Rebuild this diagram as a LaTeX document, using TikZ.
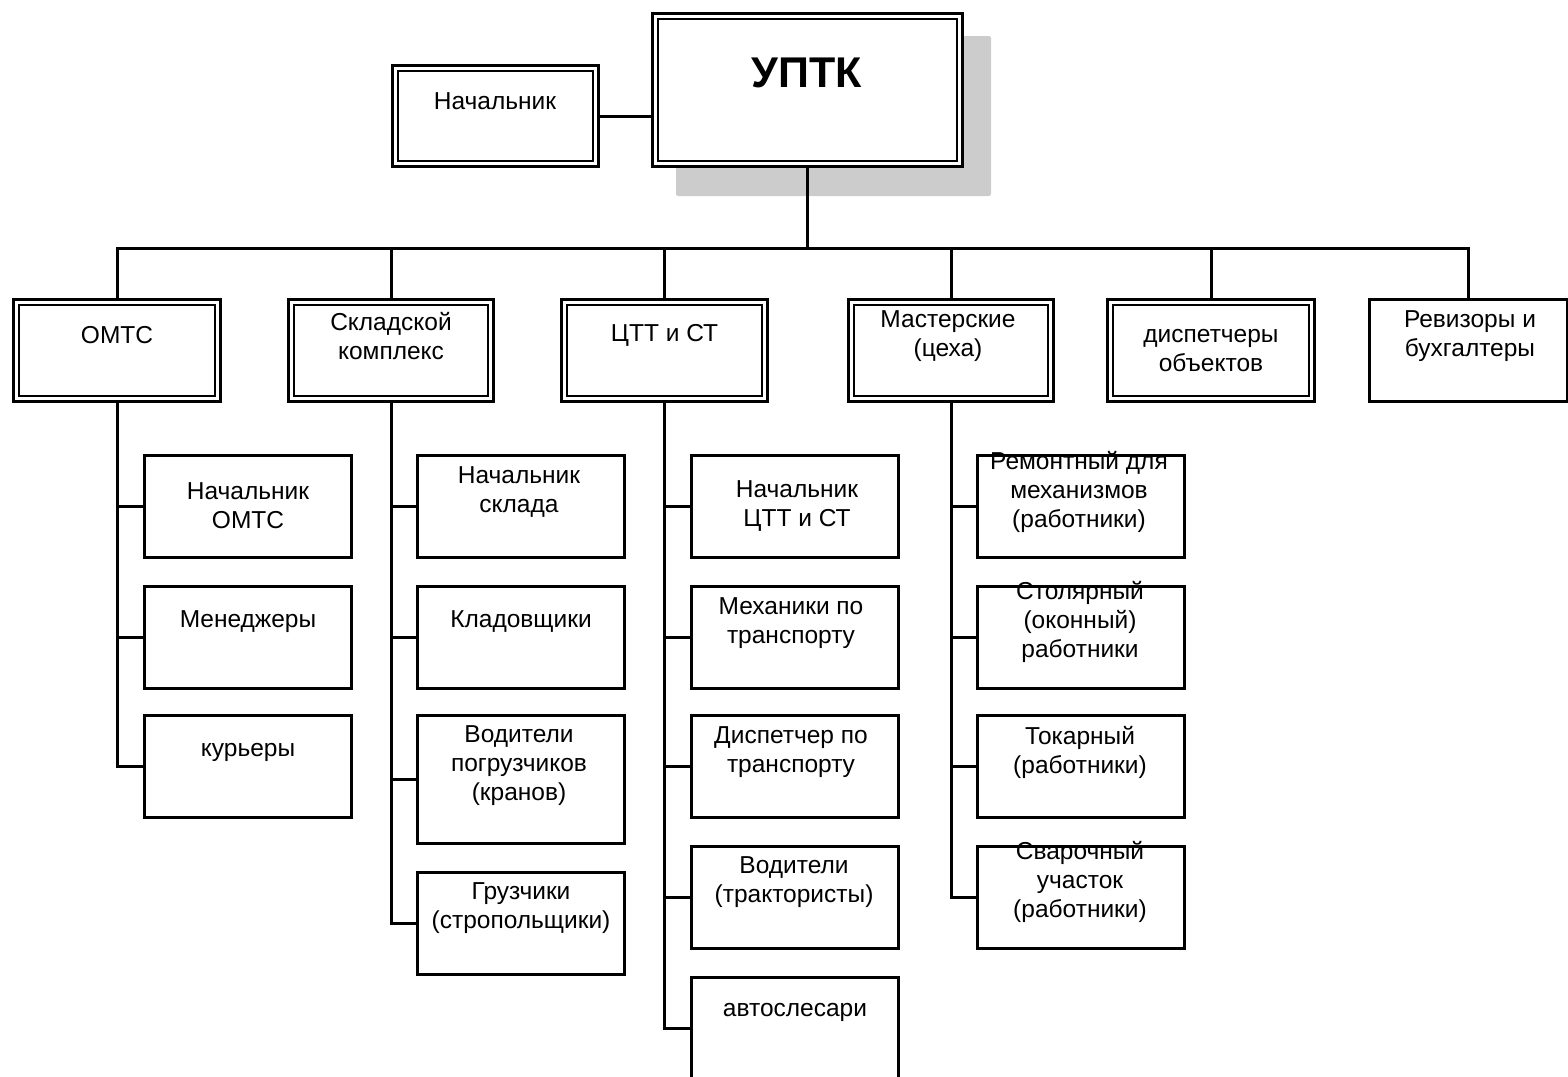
\documentclass[tikz,border=0pt]{standalone}
\usepackage{fontspec}
\setmainfont{Liberation Sans}
\begin{document}
\begin{tikzpicture}[x=1pt,y=-1pt,
  dbox/.style={draw, line width=3.4pt, rectangle, inner sep=0pt, fill=white,
    path picture={\draw[line width=1.8pt] ([shift={(5.4pt,5.4pt)}]path picture bounding box.south west) rectangle ([shift={(-5.4pt,-5.4pt)}]path picture bounding box.north east);}},
  sbox/.style={draw, line width=3pt, rectangle, inner sep=0pt, fill=white},
  cbox/.style={sbox, minimum width=207pt, minimum height=102pt},
  dept/.style={dbox, minimum width=206.5pt, minimum height=101.5pt},
  txt/.style={font=\fontsize{24.5}{29}\selectfont, align=center, inner sep=0pt},
  conn/.style={line width=3pt}]
\useasboundingbox (0,0) rectangle (1568,1076);
% shadow
\fill[black!20, rounded corners=2pt] (676,36) rectangle (991,196);
% top
\node[dbox, minimum width=309.5pt, minimum height=152.5pt] (uptk) at (807.5,90) {};
\node[txt, font=\fontsize{43}{46}\selectfont\bfseries] (tuptk) at (807,73) {УПТК};
\node[dbox, minimum width=205.5pt, minimum height=100.5pt] (nach) at (495.5,116) {};
\node[txt] (tnach) at (495,101) {Начальник};
\draw[conn] (nach.east) -- (nach.east -| uptk.west);
\coordinate (bus) at (807.5,248);
\draw[conn] (uptk.south) -- (bus);
% departments
\node[dept] (d1) at (117,350.5) {};
\node[dept, minimum width=204.5pt] (d2) at (391,350.5) {};
\node[dept] (d3) at (664.5,350.5) {};
\node[dept, minimum width=204.5pt] (d4) at (951,350.5) {};
\node[dept] (d5) at (1211,350.5) {};
\node[sbox, minimum width=198pt, minimum height=102pt] (d6) at (1468,350.5) {};
\foreach \d in {d1,d2,d3,d4,d5,d6} \draw[conn] (bus) -| (\d.north);
\node[txt] (td1) at (117,335) {ОМТС};
\node[txt] (td2) at (391,336) {Складской\\комплекс};
\node[txt] (td3) at (664.5,335) {ЦТТ и СТ};
\node[txt] (td4) at (948,336) {Мастерские\\(цеха)};
\node[txt] (td5) at (1211,351) {диспетчеры\\объектов};
\node[txt] (td6) at (1470,336) {Ревизоры и\\бухгалтеры};
% OMTC children
\node[cbox] (a1) at (248,506.5) {};
\node[cbox] (a2) at (248,637.5) {};
\node[cbox] (a3) at (248,766.5) {};
\foreach \c in {a1,a2,a3} \draw[conn] (d1.south) |- (\c.west);
\node[txt] (ta1) at (248,506) {Начальник\\ОМТС};
\node[txt] (ta2) at (248,622) {Менеджеры};
\node[txt] (ta3) at (248,752) {курьеры};
% Sklad children
\node[cbox] (b1) at (521,506.5) {};
\node[cbox] (b2) at (521,637.5) {};
\node[cbox, minimum height=128pt] (b3) at (521,779.5) {};
\node[cbox] (b4) at (521,923) {};
\foreach \c in {b1,b2,b3,b4} \draw[conn] (d2.south) |- (\c.west);
\node[txt] (tb1) at (519,492) {Начальник\\склада};
\node[txt] (tb2) at (521,622) {Кладовщики};
\node[txt] (tb3) at (519,766) {Водители\\погрузчиков\\(кранов)};
\node[txt] (tb4) at (521,908) {Грузчики\\(стропольщики)};
% CTT children
\node[cbox] (c1) at (795,506.5) {};
\node[cbox] (c2) at (795,637.5) {};
\node[cbox] (c3) at (795,766.5) {};
\node[cbox] (c4) at (795,897) {};
\node[cbox] (c5) at (795,1028) {};
\foreach \c in {c1,c2,c3,c4,c5} \draw[conn] (d3.south) |- (\c.west);
\node[txt] (tc1) at (797,506) {Начальник\\ЦТТ и СТ};
\node[txt] (tc2) at (791,623) {Механики по\\транспорту};
\node[txt] (tc3) at (791,752) {Диспетчер по\\транспорту};
\node[txt] (tc4) at (794,882) {Водители\\(трактористы)};
\node[txt] (tc5) at (795,1012) {автослесари};
% Masterskie children
\node[cbox] (e1) at (1081,506.5) {};
\node[cbox] (e2) at (1081,637.5) {};
\node[cbox] (e3) at (1081,766.5) {};
\node[cbox] (e4) at (1081,897) {};
\foreach \c in {e1,e2,e3,e4} \draw[conn] (d4.south) |- (\c.west);
\node[txt] (te1) at (1079,492) {Ремонтный для\\механизмов\\(работники)};
\node[txt] (te2) at (1080,622) {Столярный\\(оконный)\\работники};
\node[txt] (te3) at (1080,752) {Токарный\\(работники)};
\node[txt] (te4) at (1080,882) {Сварочный\\участок\\(работники)};
\end{tikzpicture}
\end{document}
